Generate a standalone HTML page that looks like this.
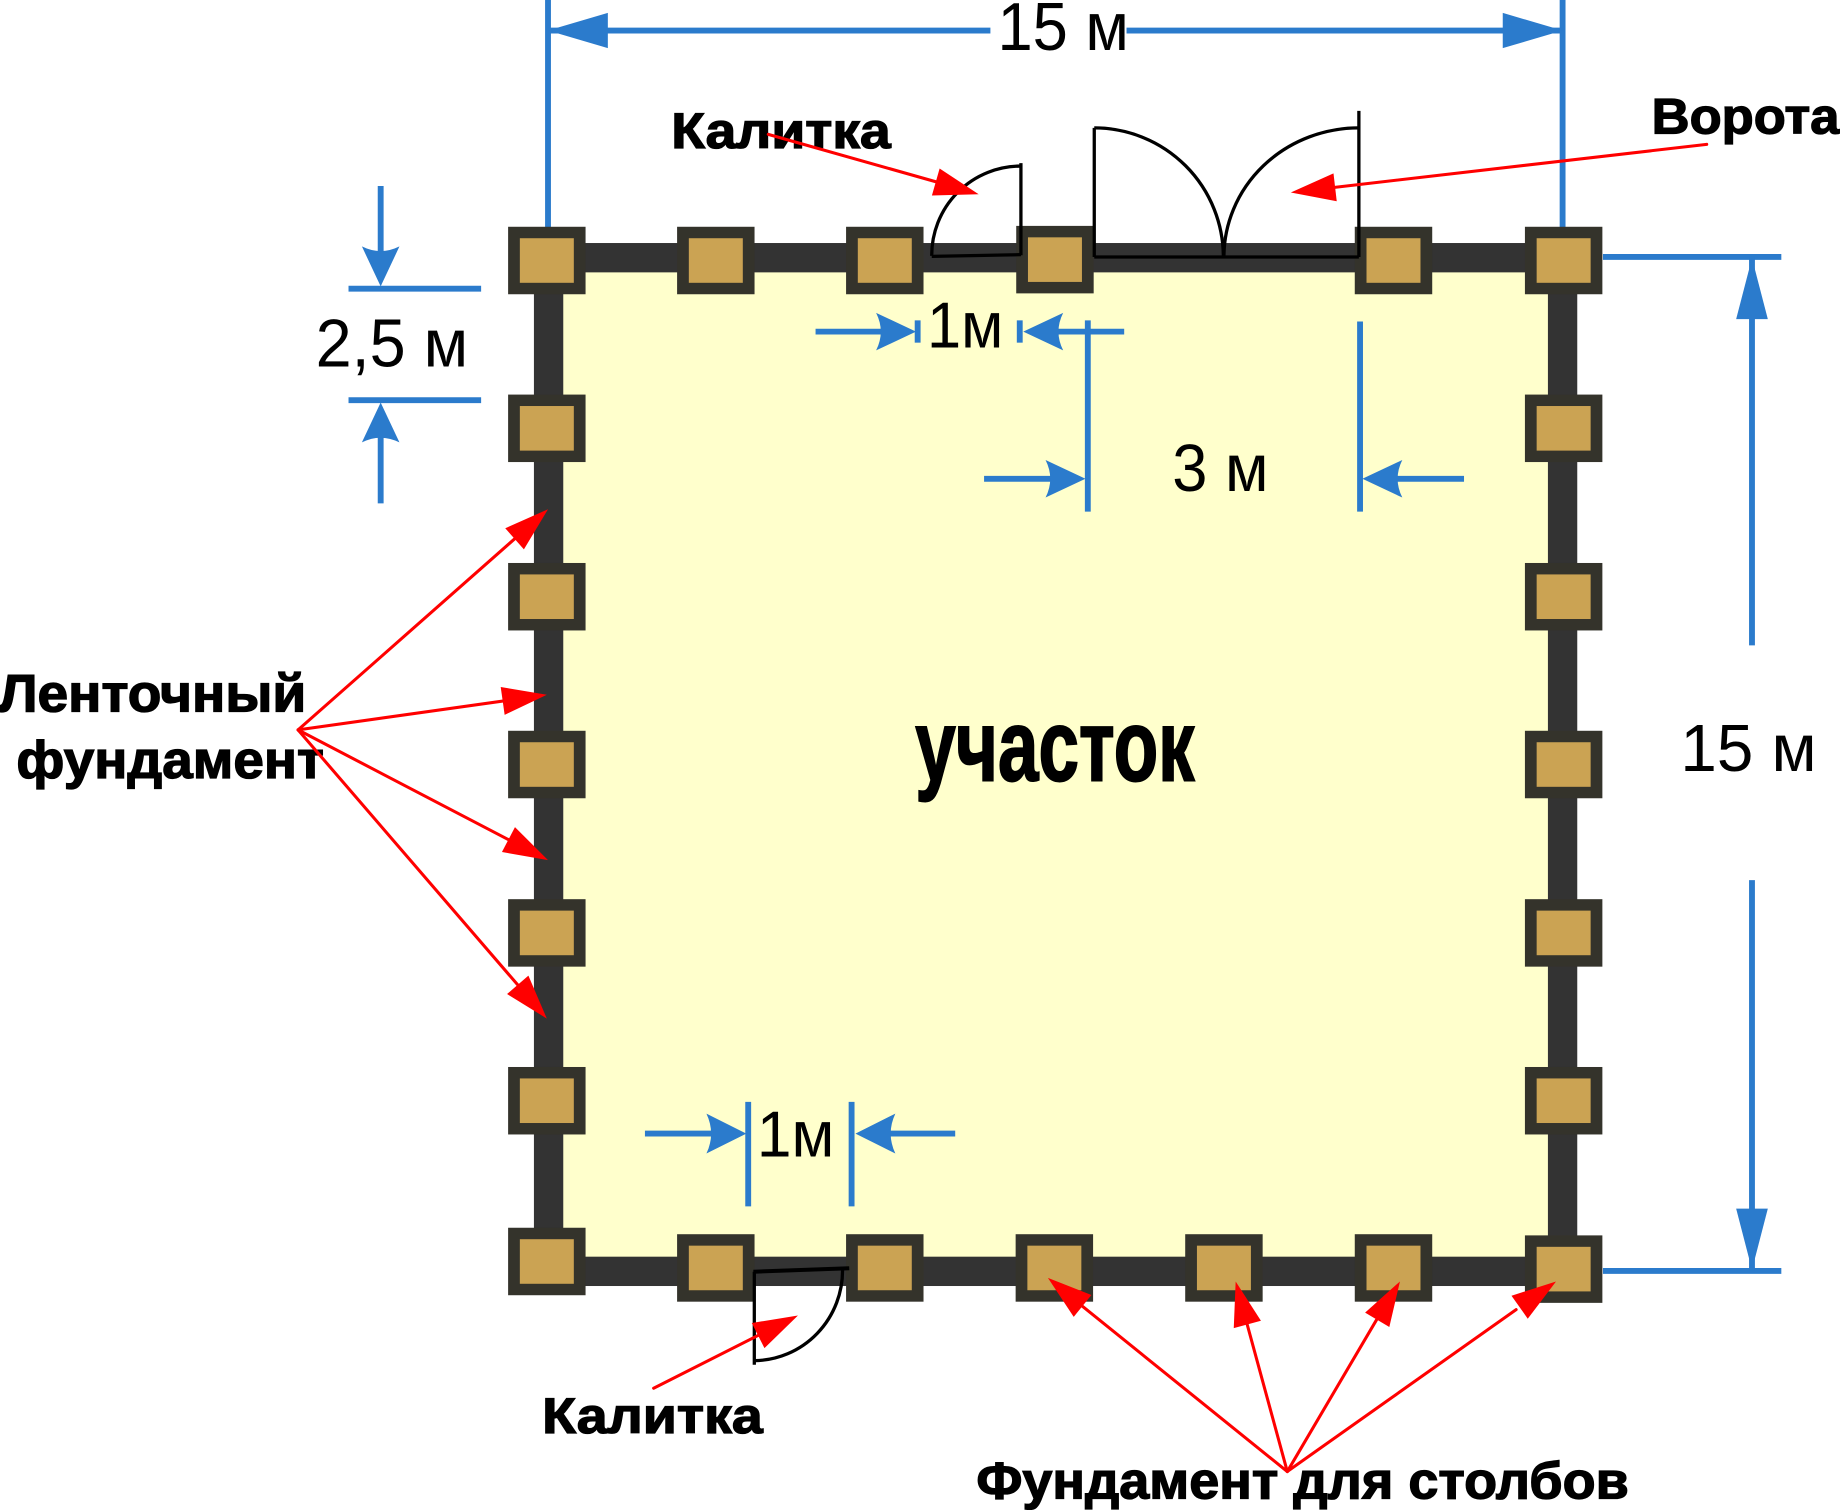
<!DOCTYPE html>
<html>
<head>
<meta charset="utf-8">
<style>
  html, body { margin: 0; padding: 0; background: #ffffff; }
  svg { display: block; }
  .dim { font-family: "Liberation Sans", "DejaVu Sans", sans-serif; font-weight: normal; fill: #000; }
  .lbl { font-family: "Liberation Sans", "DejaVu Sans", sans-serif; font-weight: bold; fill: #000; stroke: #000; stroke-width: 1.1; }
</style>
</head>
<body>
<svg width="1840" height="1510" viewBox="0 0 1568 1286.77" preserveAspectRatio="none" xmlns="http://www.w3.org/2000/svg">
  <rect x="0" y="0" width="1568" height="1286.77" fill="#ffffff"/>

  <!-- plot fill and strip foundation -->
  <rect x="467.5" y="219.6" width="864.1" height="863.8" fill="#FFFFCC"/>
  <rect x="467.5" y="219.6" width="864.1" height="863.8" fill="none" stroke="#333333" stroke-width="25"/>

  <!-- blue dimension lines -->
  <g stroke="#2B7BCC" stroke-width="5" fill="none">
    <line x1="467" y1="0" x2="467" y2="194"/>
    <line x1="1331.6" y1="0" x2="1331.6" y2="194"/>
    <line x1="467" y1="26" x2="844" y2="26"/>
    <line x1="960" y1="26" x2="1331.6" y2="26"/>
    <line x1="1366" y1="219" x2="1518" y2="219"/>
    <line x1="1366" y1="1083" x2="1518" y2="1083"/>
    <line x1="1493" y1="219" x2="1493" y2="550"/>
    <line x1="1493" y1="750" x2="1493" y2="1083"/>
    <line x1="297" y1="246" x2="410" y2="246"/>
    <line x1="297" y1="341" x2="410" y2="341"/>
    <line x1="324.4" y1="158.5" x2="324.4" y2="230"/>
    <line x1="324.4" y1="360" x2="324.4" y2="429"/>
    <line x1="695" y1="282.6" x2="770" y2="282.6"/>
    <line x1="782" y1="273" x2="782" y2="292"/>
    <line x1="869" y1="273" x2="869" y2="292"/>
    <line x1="885" y1="282.6" x2="958" y2="282.6"/>
    <line x1="927" y1="273" x2="927" y2="436"/>
    <line x1="1159" y1="274" x2="1159" y2="436"/>
    <line x1="838.6" y1="408" x2="915" y2="408"/>
    <line x1="1172" y1="408" x2="1247.6" y2="408"/>
    <line x1="637.6" y1="939" x2="637.6" y2="1028"/>
    <line x1="725.7" y1="939" x2="725.7" y2="1028"/>
    <line x1="549.6" y1="966" x2="625" y2="966"/>
    <line x1="740" y1="966" x2="814" y2="966"/>
  </g>

  <!-- blue arrowheads -->
  <g fill="#2B7BCC" stroke="none">
    <polygon points="467,26 518,11 518,41"/>
    <polygon points="1331.6,26 1280.6,11 1280.6,41"/>
    <polygon points="1493,220 1479.5,272 1506.5,272"/>
    <polygon points="1493,1082 1479.5,1030 1506.5,1030"/>
    <path d="M324.4 244 L308.4 210 Q324.4 218 340.4 210 Z"/>
    <path d="M324.4 343 L308.4 377 Q324.4 369 340.4 377 Z"/>
    <path d="M780.6 282.6 L746.6 266.6 Q754.6 282.6 746.6 298.6 Z"/>
    <path d="M872 282.6 L906 266.6 Q898 282.6 906 298.6 Z"/>
    <path d="M925 408 L891 392 Q899 408 891 424 Z"/>
    <path d="M1161 408 L1195 392 Q1187 408 1195 424 Z"/>
    <path d="M636 966 L602 949 Q610 966 602 983 Z"/>
    <path d="M729 966 L763 949 Q755 966 763 983 Z"/>
  </g>

  <!-- posts -->
  <g>
    <rect x="433" y="193.25" width="66" height="57.5" fill="#34332B"/><rect x="443" y="203" width="46" height="38" fill="#CBA353"/>
    <rect x="577" y="193.25" width="66" height="57.5" fill="#34332B"/><rect x="587" y="203" width="46" height="38" fill="#CBA353"/>
    <rect x="721" y="193.25" width="66" height="57.5" fill="#34332B"/><rect x="731" y="203" width="46" height="38" fill="#CBA353"/>
    <rect x="866" y="192.5" width="66" height="57.5" fill="#34332B"/><rect x="876" y="202.25" width="46" height="38" fill="#CBA353"/>
    <rect x="1154.5" y="193.25" width="66" height="57.5" fill="#34332B"/><rect x="1164.5" y="203" width="46" height="38" fill="#CBA353"/>
    <rect x="1299.5" y="193.25" width="66" height="57.5" fill="#34332B"/><rect x="1309.5" y="203" width="46" height="38" fill="#CBA353"/>
    <rect x="433" y="336.25" width="66" height="57.5" fill="#34332B"/><rect x="443" y="346" width="46" height="38" fill="#CBA353"/>
    <rect x="433" y="479.75" width="66" height="57.5" fill="#34332B"/><rect x="443" y="489.5" width="46" height="38" fill="#CBA353"/>
    <rect x="433" y="622.75" width="66" height="57.5" fill="#34332B"/><rect x="443" y="632.5" width="46" height="38" fill="#CBA353"/>
    <rect x="433" y="766.25" width="66" height="57.5" fill="#34332B"/><rect x="443" y="776" width="46" height="38" fill="#CBA353"/>
    <rect x="433" y="909.25" width="66" height="57.5" fill="#34332B"/><rect x="443" y="919" width="46" height="38" fill="#CBA353"/>
    <rect x="433" y="1046.25" width="66" height="57.5" fill="#34332B"/><rect x="443" y="1056" width="46" height="38" fill="#CBA353"/>
    <rect x="1299.5" y="336.25" width="66" height="57.5" fill="#34332B"/><rect x="1309.5" y="346" width="46" height="38" fill="#CBA353"/>
    <rect x="1299.5" y="479.75" width="66" height="57.5" fill="#34332B"/><rect x="1309.5" y="489.5" width="46" height="38" fill="#CBA353"/>
    <rect x="1299.5" y="622.75" width="66" height="57.5" fill="#34332B"/><rect x="1309.5" y="632.5" width="46" height="38" fill="#CBA353"/>
    <rect x="1299.5" y="766.25" width="66" height="57.5" fill="#34332B"/><rect x="1309.5" y="776" width="46" height="38" fill="#CBA353"/>
    <rect x="1299.5" y="909.25" width="66" height="57.5" fill="#34332B"/><rect x="1309.5" y="919" width="46" height="38" fill="#CBA353"/>
    <rect x="1299.5" y="1052.75" width="66" height="57.5" fill="#34332B"/><rect x="1309.5" y="1062.5" width="46" height="38" fill="#CBA353"/>
    <rect x="577" y="1051.75" width="66" height="57.5" fill="#34332B"/><rect x="587" y="1061.5" width="46" height="38" fill="#CBA353"/>
    <rect x="721" y="1051.75" width="66" height="57.5" fill="#34332B"/><rect x="731" y="1061.5" width="46" height="38" fill="#CBA353"/>
    <rect x="865.5" y="1051.75" width="66" height="57.5" fill="#34332B"/><rect x="875.5" y="1061.5" width="46" height="38" fill="#CBA353"/>
    <rect x="1010" y="1051.75" width="66" height="57.5" fill="#34332B"/><rect x="1020" y="1061.5" width="46" height="38" fill="#CBA353"/>
    <rect x="1154.5" y="1051.75" width="66" height="57.5" fill="#34332B"/><rect x="1164.5" y="1061.5" width="46" height="38" fill="#CBA353"/>
  </g>

  <!-- gates -->
  <g stroke="#000" stroke-width="2.8" fill="none">
    <line x1="870" y1="139" x2="870" y2="217.5"/>
    <line x1="794" y1="218.5" x2="870" y2="217"/>
    <path d="M794 218 A76 76 0 0 1 870 141.5"/>
    <line x1="932.5" y1="109" x2="932.5" y2="219"/>
    <line x1="1158" y1="94.5" x2="1158" y2="219"/>
    <line x1="932.5" y1="219" x2="1158" y2="219"/>
    <path d="M932.5 109 A110 110 0 0 1 1042.5 219"/>
    <path d="M1158 109 A115 110 0 0 0 1043 219"/>
    <line x1="642" y1="1083.7" x2="723.7" y2="1080.8" stroke-width="3.4"/>
    <line x1="642.8" y1="1083.7" x2="642.8" y2="1163"/>
    <path d="M718 1082 A76 77 0 0 1 643.5 1159.5"/>
  </g>

  <!-- dimension labels -->
  <text class="dim" x="850" y="42.6" font-size="58" textLength="112" lengthAdjust="spacingAndGlyphs">15 м</text>
  <text class="dim" x="1432" y="657" font-size="57" textLength="116" lengthAdjust="spacingAndGlyphs">15 м</text>
  <text class="dim" x="269" y="312.5" font-size="58" textLength="130" lengthAdjust="spacingAndGlyphs">2,5 м</text>
  <text class="dim" x="790" y="296" font-size="55" textLength="65" lengthAdjust="spacingAndGlyphs">1м</text>
  <text class="dim" x="999" y="418.4" font-size="57" textLength="82" lengthAdjust="spacingAndGlyphs">3 м</text>
  <text class="dim" x="645" y="985.7" font-size="55" textLength="66" lengthAdjust="spacingAndGlyphs">1м</text>

  <!-- bold labels -->
  <text class="lbl" x="572" y="126" font-size="43" textLength="187" lengthAdjust="spacingAndGlyphs">Калитка</text>
  <text class="lbl" x="1407.5" y="113.6" font-size="43" textLength="160" lengthAdjust="spacingAndGlyphs">Ворота</text>
  <text class="lbl" x="-1" y="606.5" font-size="45" textLength="262" lengthAdjust="spacingAndGlyphs">Ленточный</text>
  <text class="lbl" x="14" y="663" font-size="45" textLength="262" lengthAdjust="spacingAndGlyphs">фундамент</text>
  <text class="lbl" x="780" y="665" font-size="86" textLength="238" lengthAdjust="spacingAndGlyphs" style="stroke-width:1.6">участок</text>
  <text class="lbl" x="462" y="1221" font-size="43" textLength="188" lengthAdjust="spacingAndGlyphs">Калитка</text>
  <text class="lbl" x="832" y="1277" font-size="44" textLength="556" lengthAdjust="spacingAndGlyphs">Фундамент для столбов</text>

  <!-- red leader lines -->
  <g stroke="#FF0000" stroke-width="2.6" fill="none" stroke-linecap="round">
    <line x1="654.7" y1="114.5" x2="805" y2="157"/>
    <line x1="1454.4" y1="123" x2="1130" y2="160.5"/>
    <line x1="254" y1="622" x2="445" y2="453.5"/>
    <line x1="254" y1="622" x2="435" y2="596.5"/>
    <line x1="254" y1="622" x2="440" y2="719"/>
    <line x1="254" y1="622" x2="447" y2="846"/>
    <line x1="557" y1="1183" x2="652" y2="1135"/>
    <line x1="1097" y1="1254" x2="916" y2="1108"/>
    <line x1="1097" y1="1254" x2="1061" y2="1122"/>
    <line x1="1097" y1="1254" x2="1177" y2="1118"/>
    <line x1="1097" y1="1254" x2="1292" y2="1116"/>
  </g>
  <g fill="#FF0000" stroke="none">
    <polygon points="834,165.5 794.16,166.64 800.72,143.56"/>
    <polygon points="1100,164 1136.37,147.71 1139.13,171.55"/>
    <polygon points="467,434 446.45,468.14 430.57,450.14"/>
    <polygon points="466,592 430.05,609.2 426.69,585.44"/>
    <polygon points="467,733 427.75,726.08 438.85,704.8"/>
    <polygon points="466,868 432.11,847.05 450.29,831.39"/>
    <polygon points="680,1121 651.46,1148.83 640.66,1127.39"/>
    <polygon points="893,1089 930.1,1103.56 915.0,1122.22"/>
    <polygon points="1053,1092 1074.54,1125.52 1051.38,1131.82"/>
    <polygon points="1193,1092 1183.95,1130.81 1163.31,1118.57"/>
    <polygon points="1326,1092 1301.91,1123.75 1288.05,1104.15"/>
  </g>
</svg>
</body>
</html>
